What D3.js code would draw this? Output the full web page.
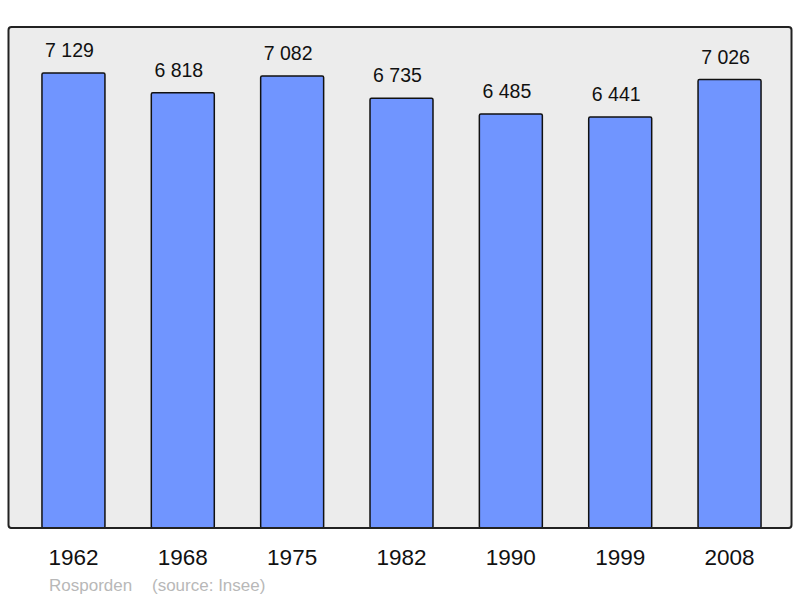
<!DOCTYPE html>
<html>
<head>
<meta charset="utf-8">
<script src="https://cdn.jsdelivr.net/npm/d3@7"></script>
<style>
  body { margin: 0; background: #fff; }
  text { font-family: "Liberation Sans", Arial, sans-serif; }
</style>
</head>
<body>
<div id="vis"></div>
<script>
// Population data
const years = ["1962", "1968", "1975", "1982", "1990", "1999", "2008"]
const population = [7129, 6818, 7082, 6735, 6485, 6441, 7026]
const town = "Rosporden"
const source = "(source: Insee)"

const W = 800, H = 598
const panel = {left: 8.5, top: 27, right: 791.5, bottom: 528}

const svg = d3.select("#vis").append("svg")
    .attr("width", W)
    .attr("height", H)

const x = d3.scaleBand()
    .domain(years)
    .range([19, 784])
    .paddingInner(0.424)
    .paddingOuter(0.21)

const y = d3.scaleLinear()
    .domain([0, 7129])
    .range([panel.bottom, 73])

// grey panel
svg.append("rect")
    .attr("x", panel.left)
    .attr("y", panel.top)
    .attr("width", panel.right - panel.left)
    .attr("height", panel.bottom - panel.top)
    .attr("rx", 3)
    .attr("fill", "#ececec")
    .attr("stroke", "#222")
    .attr("stroke-width", 2)

const data = years.map((yr, i) => ({year: yr, value: population[i]}))

// bars
svg.selectAll("rect.bar")
    .data(data)
    .enter()
    .append("rect")
    .attr("class", "bar")
    .attr("x", d => x(d.year))
    .attr("y", d => y(d.value))
    .attr("width", x.bandwidth())
    .attr("height", d => panel.bottom - y(d.value))
    .attr("rx", 1.5)
    .attr("fill", "#7095ff")
    .attr("stroke", "#111")
    .attr("stroke-width", 1.5)

// redraw bottom edge of panel over bar bases
svg.append("line")
    .attr("x1", panel.left + 2)
    .attr("x2", panel.right - 2)
    .attr("y1", panel.bottom)
    .attr("y2", panel.bottom)
    .attr("stroke", "#222")
    .attr("stroke-width", 2)

// value labels (sit a little left of the bar centre in the original)
const fmt = v => d3.format(",")(v).replace(",", " ")
svg.selectAll("text.val")
    .data(data)
    .enter()
    .append("text")
    .attr("class", "val")
    .attr("x", d => x(d.year) + x.bandwidth() / 2 - 4)
    .attr("y", d => y(d.value) - 16)
    .attr("text-anchor", "middle")
    .attr("font-size", 19.5)
    .attr("fill", "#111")
    .text(d => fmt(d.value))

// year labels
svg.selectAll("text.year")
    .data(data)
    .enter()
    .append("text")
    .attr("class", "year")
    .attr("x", d => x(d.year) + x.bandwidth() / 2)
    .attr("y", 565)
    .attr("text-anchor", "middle")
    .attr("font-size", 22.5)
    .attr("fill", "#111")
    .text(d => d.year)

// footer
svg.append("text")
    .attr("x", 49)
    .attr("y", 590.5)
    .attr("font-size", 17)
    .attr("fill", "#b8b8b8")
    .text(town)

svg.append("text")
    .attr("x", 152)
    .attr("y", 590.5)
    .attr("font-size", 17)
    .attr("fill", "#b8b8b8")
    .text(source)
</script>
</body>
</html>
